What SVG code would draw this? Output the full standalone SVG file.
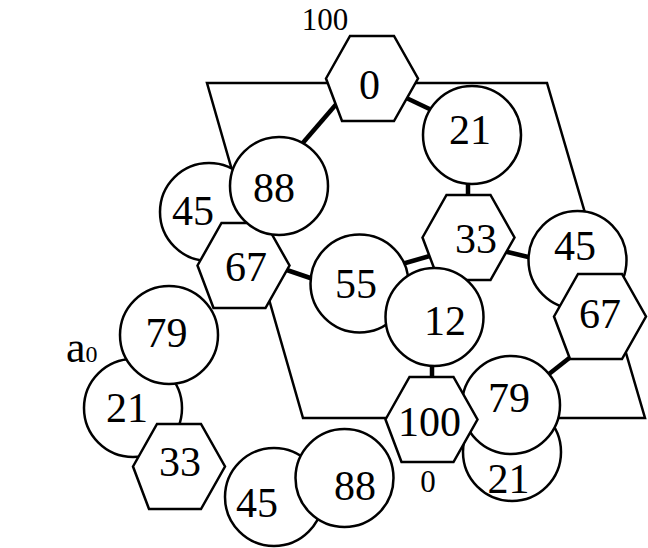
<svg xmlns="http://www.w3.org/2000/svg" xmlns:xlink="http://www.w3.org/1999/xlink" width="648" height="548" viewBox="0 0 648 548">
<defs>
<style>
.n{fill:#fff;stroke:#000;stroke-width:2.5}
.e{stroke:#000;stroke-width:4.5;fill:none}
.f{stroke:#000;stroke-width:2.5;fill:none;stroke-linejoin:miter}
text{font-family:"Liberation Serif","Times New Roman",serif;fill:#000;text-anchor:middle}
.t{font-size:42px}
.s{font-size:31px}
</style>
<path id="hex" d="M-46,0 L-22,-42.5 L22,-42.5 L46,0 L22,42.5 L-30,42.5 Z"/>
</defs>
<rect width="648" height="548" fill="#fff"/>
<g id="frame">
<polygon class="f" points="207,83 547,83 645,418 303,418"/>
</g>
<g id="connectors">
<line class="e" x1="345" y1="94" x2="295" y2="152"/>
<line class="e" x1="398" y1="94" x2="440" y2="114"/>
<line class="e" x1="468" y1="175" x2="468" y2="205"/>
<line class="e" x1="495" y1="249" x2="545" y2="261"/>
<line class="e" x1="395" y1="266" x2="440" y2="253"/>
<line class="e" x1="275" y1="266" x2="325" y2="283"/>
<line class="e" x1="432" y1="355" x2="432" y2="390"/>
<line class="e" x1="535" y1="385" x2="582" y2="348"/>
</g>
<g id="n45a"><circle class="n" cx="209" cy="212" r="49"/><text class="t" x="193" y="225">45</text></g>
<g id="n21a"><circle class="n" cx="133" cy="408" r="49"/><text class="t" x="127" y="422">21</text></g>
<g id="n79a"><circle class="n" cx="169" cy="335" r="49"/><text class="t" x="166.5" y="347">79</text></g>
<g id="n67a"><use xlink:href="#hex" href="#hex" class="n" x="243.5" y="265.5"/><text class="t" x="246" y="281">67</text></g>
<g id="n88a"><circle class="n" cx="279" cy="186" r="49"/><text class="t" x="274" y="202">88</text></g>
<g id="n33a"><use xlink:href="#hex" href="#hex" class="n" x="179" y="466.5"/><text class="t" x="180" y="476">33</text></g>
<g id="n0"><use xlink:href="#hex" href="#hex" class="n" x="372" y="78.5"/><text class="t" x="369.5" y="99">0</text></g>
<g id="n21b"><circle class="n" cx="472" cy="135" r="49"/><text class="t" x="470" y="144">21</text></g>
<g id="n55"><circle class="n" cx="359.5" cy="283.5" r="49"/><text class="t" x="356" y="298">55</text></g>
<g id="n33b"><use xlink:href="#hex" href="#hex" class="n" x="468.5" y="237.5"/><text class="t" x="476" y="253">33</text></g>
<g id="n12"><circle class="n" cx="434.5" cy="317" r="49"/><text class="t" x="445" y="335">12</text></g>
<g id="n45b"><circle class="n" cx="577.5" cy="260" r="49"/><text class="t" x="575" y="260">45</text></g>
<g id="n67b"><use xlink:href="#hex" href="#hex" class="n" x="600" y="316.5"/><text class="t" x="600" y="328">67</text></g>
<g id="n21c"><circle class="n" cx="512" cy="452" r="49"/><text class="t" x="508.5" y="493">21</text></g>
<g id="n79b"><circle class="n" cx="511" cy="405" r="49"/><text class="t" x="509" y="412">79</text></g>
<g id="n100"><use xlink:href="#hex" href="#hex" class="n" x="431.5" y="419.5"/><text class="t" x="429.5" y="436">100</text></g>
<g id="n45c"><circle class="n" cx="274" cy="497" r="49"/><text class="t" x="257" y="517">45</text></g>
<g id="n88b"><circle class="n" cx="344.5" cy="478" r="49"/><text class="t" x="355" y="500">88</text></g>
<g id="labels">
<text class="s" x="325" y="30">100</text>
<text class="s" x="428" y="492">0</text>
<text x="66" y="362" style="text-anchor:start;font-size:44px">a<tspan style="font-size:24px">0</tspan></text>
</g>
</svg>
